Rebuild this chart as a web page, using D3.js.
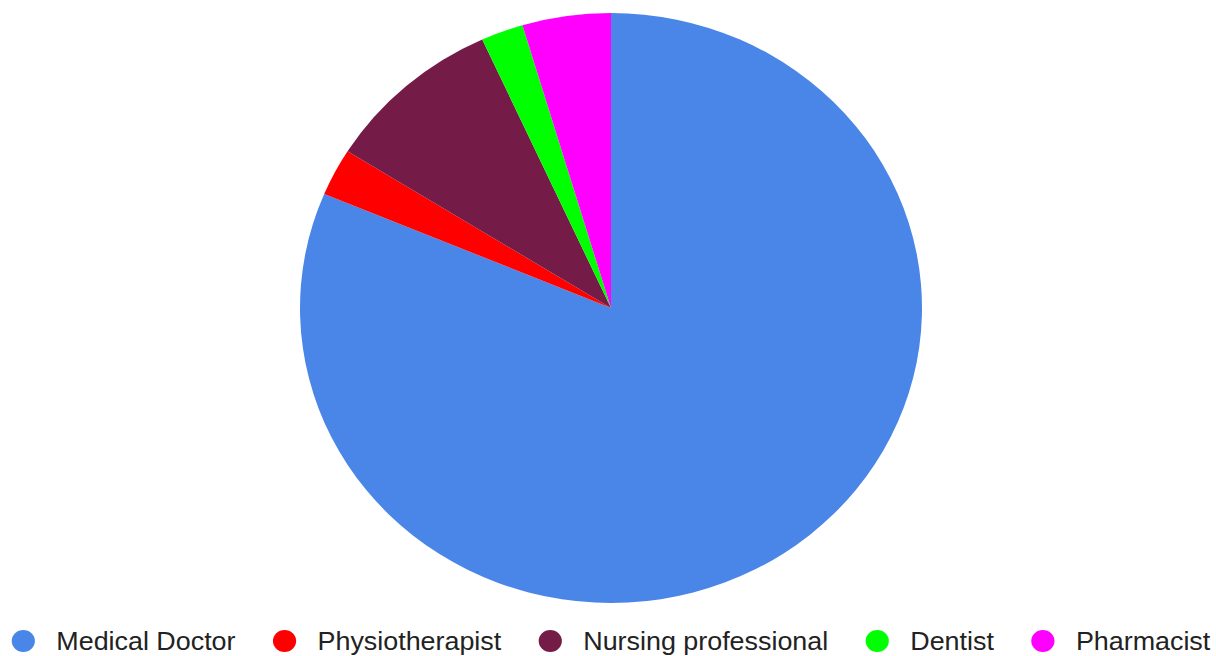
<!DOCTYPE html>
<html>
<head>
<meta charset="utf-8">
<script src="https://cdn.jsdelivr.net/npm/d3@7"></script>
<style>
  html, body { margin: 0; padding: 0; background: #ffffff; }
  svg { display: block; }
</style>
</head>
<body>
<svg id="chart" width="1216" height="656"></svg>
<script>
const categories = ["Medical Doctor", "Physiotherapist", "Nursing professional", "Dentist", "Pharmacist"];
const values = [81.4, 2.6, 9.3, 2.2, 4.6];
const colors = ["#4a86e8", "#ff0000", "#741b47", "#00ff00", "#ff00ff"];

const W = 1216, H = 656;
const cx = 611, cy = 308, ry = 295, rx = 311;
const sx = rx / ry;

const svg = d3.select("#chart");
const data = categories.map((c, i) => ({ name: c, value: values[i], color: colors[i] }));

const pie = d3.pie().sort(null).value(d => d.value).startAngle(0).endAngle(2 * Math.PI);
const arc = d3.arc().innerRadius(0).outerRadius(ry);

const g = svg.append("g").attr("transform", `translate(${cx},${cy}) scale(${sx},1)`);
g.selectAll("path")
  .data(pie(data))
  .join("path")
  .attr("d", arc)
  .attr("fill", d => d.data.color);

// Legend
const lg = svg.append("g").attr("transform", `translate(${cx},641) scale(${sx},1)`);
const circleR = 11, toText = 31.3, itemGap = 46.5;
const items = lg.selectAll("g.item").data(data).join("g").attr("class", "item");
items.append("circle").attr("r", circleR).attr("fill", d => d.color);
items.append("text")
  .attr("x", toText)
  .attr("y", 8.5)
  .attr("font-family", "Liberation Sans, Arial, sans-serif")
  .attr("font-size", 25.5)
  .attr("fill", "#222222")
  .text(d => d.name);

let x = 0;
const positions = [];
items.each(function() {
  const w = d3.select(this).select("text").node().getComputedTextLength();
  positions.push(x);
  x += toText + w + itemGap;
});
const totalWidth = x - itemGap + circleR;
const start = -totalWidth / 2 + circleR;
items.attr("transform", (d, i) => `translate(${start + positions[i]},0)`);
</script>
</body>
</html>
